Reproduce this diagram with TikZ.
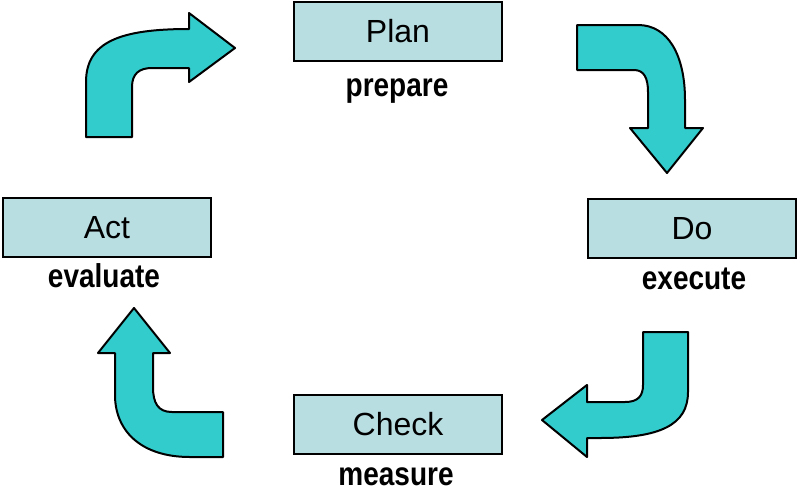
\documentclass[tikz,border=0pt]{standalone}
\usepackage{fontspec}
\setmainfont{Liberation Sans}
\definecolor{boxfill}{RGB}{184,222,226}
\definecolor{arrowfill}{RGB}{51,204,204}
\newcommand{\tallbold}[1]{\scalebox{1}[1.18]{#1}}
\begin{document}
\begin{tikzpicture}[x=1pt,y=-1pt,
  stage/.style={draw=black,line width=2.4pt,fill=boxfill,minimum width=208pt,minimum height=59pt,inner sep=0pt,
    font=\fontsize{32}{38}\selectfont},
  sublabel/.style={anchor=base,inner sep=0pt,font=\fontsize{28}{34}\selectfont\bfseries},
  blockarrow/.style={draw=black,line width=2pt,fill=arrowfill,line join=round}]
\useasboundingbox (0,0) rectangle (800,491);
\node[stage] (plan) at (398,31.5) {Plan};
\node[stage] (act) at (107,227.5) {Act};
\node[stage] (do) at (692,228.5) {Do};
\node[stage] (check) at (398,424.5) {Check};
\node[sublabel] (prepare) at (397,96) {\tallbold{prepare}};
\node[sublabel] (evaluate) at (104,287) {\tallbold{evaluate}};
\node[sublabel] (execute) at (694,289) {\tallbold{execute}};
\node[sublabel] (measure) at (396,485) {\tallbold{measure}};
% Act -> Plan
\draw[blockarrow] (86,137) -- (86,82) .. controls (86,42) and (120,29) .. (189,29) -- (189,13) -- (235,48) -- (189,82) -- (189,68)
  -- (152,68) .. controls (139,68) and (132,74) .. (132,87) -- (132,137) -- cycle;
% Plan -> Do
\draw[blockarrow] (577,25) -- (638,25) .. controls (668,25) and (685,55) .. (685,100) -- (685,128) -- (703,128) -- (667,173)
  -- (630,128) -- (648,128) -- (648,92) .. controls (648,78) and (644,70) .. (634,70) -- (577,70) -- cycle;
% Do -> Check
\draw[blockarrow] (643,332) -- (688,332) -- (688,392) .. controls (688,425) and (660,438) .. (600,438) -- (587,438) -- (587,457)
  -- (542,420) -- (587,385) -- (587,402) -- (625,402) .. controls (638,402) and (643,396) .. (643,385) -- cycle;
% Check -> Act
\draw[blockarrow] (223,412) -- (223,457) -- (190,457) .. controls (140,457) and (115,430) .. (115,395) -- (115,353) -- (98,353)
  -- (134,308) -- (170,353) -- (153,353) -- (153,387) .. controls (153,403) and (158,412) .. (172,412) -- cycle;
\end{tikzpicture}
\end{document}
